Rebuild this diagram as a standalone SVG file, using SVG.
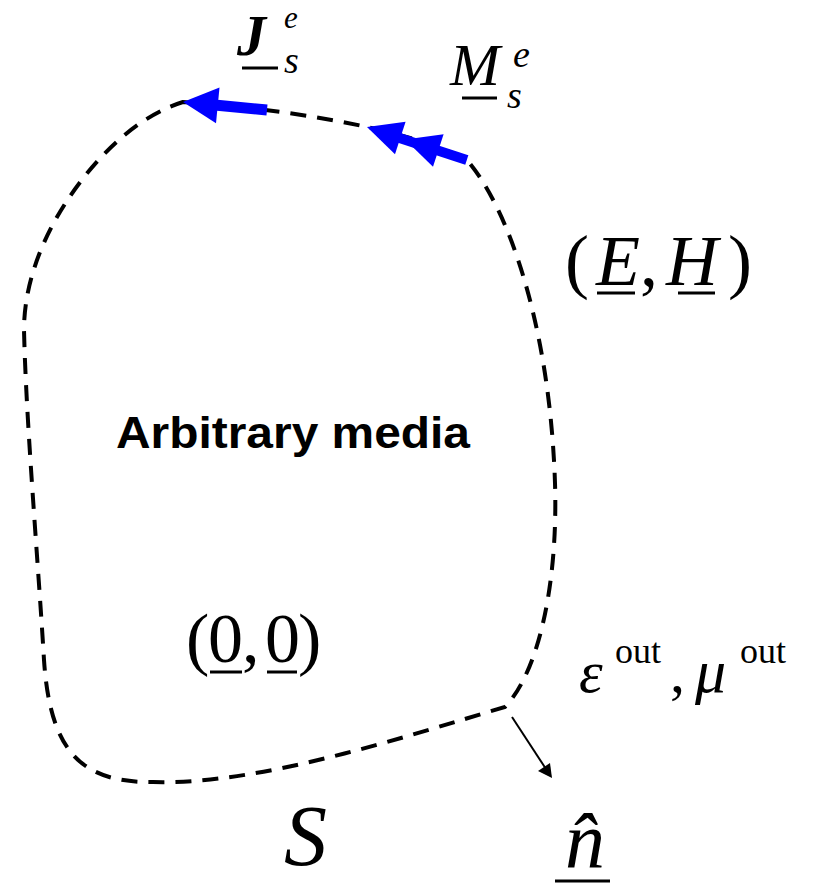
<svg xmlns="http://www.w3.org/2000/svg" width="815" height="885" viewBox="0 0 815 885">
<style>
.m{font-family:"Liberation Serif","Times New Roman",serif;fill:#000}
.i{font-style:italic}
.ul{stroke:#000;stroke-width:3}
.cur{fill:#0000ff}
</style>
<rect width="815" height="885" fill="#fff"/>
<g id="surface">
<path d="M183,102 C270,108 400,125 467,160 C510,210 550,330 555,483 C558,580 540,670 505,707 C400,738 260,785 153,782 C80,783 50,750 44,660 C38,560 26,420 24,330 C24,290 38,250 57,217 C80,177 125,120 183,102 Z" fill="none" stroke="#000" stroke-width="4" stroke-dasharray="16 11"/>
</g>
<g id="connectors">
<g id="J-arrow">
<line x1="267" y1="110" x2="212" y2="104.8" stroke="#0000ff" stroke-width="11"/>
<polygon class="cur" points="183,102 219.5,87.4 216,123.2"/>
</g>
<g id="M-arrow">
<line x1="466.8" y1="159.9" x2="398" y2="137.4" stroke="#0000ff" stroke-width="10"/>
<polygon class="cur" points="367,127 405.6,121.8 395,154.2"/>
<polygon class="cur" points="405,139.5 443.6,134.3 433,166.7"/>
</g>
<g id="normal-arrow">
<line x1="512" y1="717" x2="546" y2="769" stroke="#000" stroke-width="2"/>
<polygon points="552,778 538,771 550,763" fill="#000"/>
</g>
</g>
<g id="label-J">
<text class="m i" x="237" y="55" font-size="58" font-weight="bold">J</text>
<text class="m i" x="284" y="28" font-size="31">e</text>
<text class="m i" x="284" y="73" font-size="38">s</text>
<line class="ul" x1="242" y1="68" x2="278" y2="68"/>
</g>
<g id="label-M">
<text class="m i" x="450" y="85" font-size="60">M</text>
<text class="m i" x="513" y="67" font-size="38">e</text>
<text class="m i" x="507" y="108" font-size="38">s</text>
<line class="ul" x1="462" y1="98" x2="497" y2="98"/>
</g>
<g id="label-EH">
<text class="m" y="285" font-size="72"><tspan x="565">(</tspan><tspan x="596" class="i">E</tspan><tspan x="640">,</tspan><tspan x="666" class="i">H</tspan><tspan x="728">)</tspan></text>
<line class="ul" x1="597" y1="293" x2="635" y2="293"/>
<line class="ul" x1="678" y1="293" x2="715" y2="293"/>
</g>
<g id="label-media">
<text x="116" y="448" font-family="'Liberation Sans',Arial,sans-serif" font-weight="bold" font-size="45" textLength="354" lengthAdjust="spacingAndGlyphs">Arbitrary media</text>
</g>
<g id="label-00">
<text class="m" y="662" font-size="70"><tspan x="186">(</tspan><tspan x="208">0</tspan><tspan x="242">,</tspan><tspan x="265">0</tspan><tspan x="298">)</tspan></text>
<line class="ul" x1="210" y1="672" x2="242" y2="672"/>
<line class="ul" x1="267" y1="672" x2="297" y2="672"/>
</g>
<g id="label-out">
<text class="m i" x="579" y="692" font-size="60">ε</text>
<text class="m" x="615" y="663" font-size="36">out</text>
<text class="m" x="670" y="692" font-size="60">,</text>
<text class="m i" x="695" y="692" font-size="62">μ</text>
<text class="m" x="740" y="663" font-size="36">out</text>
</g>
<g id="label-S">
<text class="m i" x="284" y="865" font-size="86">S</text>
</g>
<g id="label-n">
<text class="m i" x="565" y="867" font-size="80">n&#x302;</text>
<line class="ul" x1="555" y1="881" x2="610" y2="881" stroke-width="3.5"/>
</g>
</svg>
